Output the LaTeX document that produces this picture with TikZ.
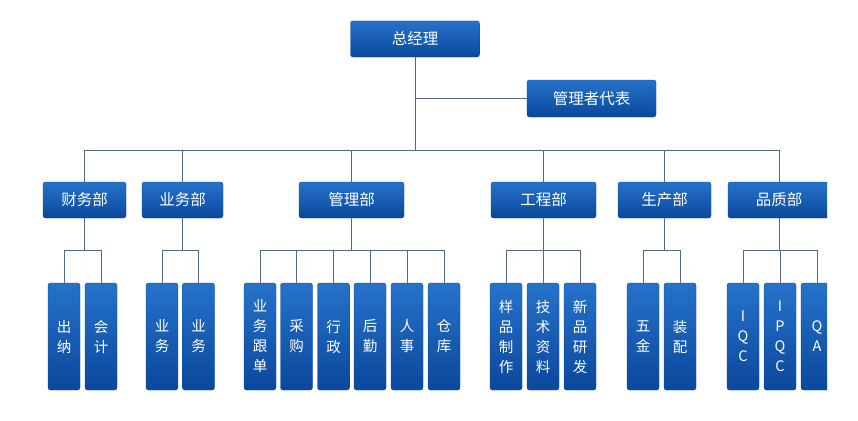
\documentclass[tikz,border=0pt]{standalone}
\usepackage{fontspec}
\newfontfamily\cjk{Noto Sans CJK SC}
\definecolor{boxtop}{RGB}{38,114,202}
\definecolor{boxbot}{RGB}{10,72,156}
\definecolor{wire}{RGB}{80,104,138}
\begin{document}
\begin{tikzpicture}[x=1pt,y=1pt,
	boxa/.style={rounded corners=2.5pt,top color=boxtop,bottom color=boxbot,draw=boxbot,
		text=white,font=\cjk\fontsize{15.5}{17}\selectfont,minimum height=36pt,inner sep=0pt},
	boxb/.style={rounded corners=2.5pt,top color=boxtop,bottom color=boxbot,draw=boxbot,
		text=white,font=\cjk\fontsize{14.5}{20}\selectfont,minimum width=32pt,minimum height=107pt,
		inner sep=0pt,align=center},
	wires/.style={draw=wire,line width=1pt}]
	\useasboundingbox (0,0) rectangle (858,-420);
	\clip (0,0) rectangle (827,-420);
	% top
	\node[boxa,minimum width=129pt] (boss) at (415,-39) {总经理};
	\node[boxa,minimum width=129pt,minimum height=37pt] (rep) at (591.5,-98.5) {管理者代表};
	% departments
	\node[boxa,minimum width=83pt] (fin) at (84.5,-200) {财务部};
	\node[boxa,minimum width=81pt] (biz) at (182.5,-200) {业务部};
	\node[boxa,minimum width=105pt] (adm) at (351.5,-200) {管理部};
	\node[boxa,minimum width=105pt] (eng) at (543.5,-200) {工程部};
	\node[boxa,minimum width=93pt] (pro) at (664.5,-200) {生产部};
	\node[boxa,minimum width=102pt] (qc) at (779,-200) {品质部};
	% sections
	\node[boxb] (fin1) at (64,-336.5) {出\\纳};
	\node[boxb] (fin2) at (101,-336.5) {会\\计};
	\node[boxb] (biz1) at (162,-336.5) {业\\务};
	\node[boxb] (biz2) at (198.5,-336.5) {业\\务};
	\node[boxb] (adm1) at (260,-336.5) {业\\务\\跟\\单};
	\node[boxb] (adm2) at (296.5,-336.5) {采\\购};
	\node[boxb] (adm3) at (333.5,-336.5) {行\\政};
	\node[boxb] (adm4) at (370,-336.5) {后\\勤};
	\node[boxb] (adm5) at (407,-336.5) {人\\事};
	\node[boxb] (adm6) at (444,-336.5) {仓\\库};
	\node[boxb] (eng1) at (506,-336.5) {样\\品\\制\\作};
	\node[boxb] (eng2) at (543,-336.5) {技\\术\\资\\料};
	\node[boxb] (eng3) at (580,-336.5) {新\\品\\研\\发};
	\node[boxb] (pro1) at (643,-336.5) {五\\金};
	\node[boxb] (pro2) at (680,-336.5) {装\\配};
	\node[boxb] (qc1) at (743,-336.5) {I\\Q\\C};
	\node[boxb] (qc2) at (780,-336.5) {I\\P\\Q\\C};
	\node[boxb] (qc3) at (817,-336.5) {Q\\A};
	% wires
	\draw[wires] (rep.west) -| (boss.south);
	\draw[wires] (fin.north) -- ++(0,31.5) -| (boss.south);
	\draw[wires] (biz.north) -- ++(0,31.5) -| (boss.south);
	\draw[wires] (adm.north) -- ++(0,31.5) -| (boss.south);
	\draw[wires] (eng.north) -- ++(0,31.5) -| (boss.south);
	\draw[wires] (pro.north) -- ++(0,31.5) -| (boss.south);
	\draw[wires] (qc.north) -- ++(0,31.5) -| (boss.south);
	\draw[wires] (fin1.north) -- ++(0,32.5) -| (fin.south);
	\draw[wires] (fin2.north) -- ++(0,32.5) -| (fin.south);
	\draw[wires] (biz1.north) -- ++(0,32.5) -| (biz.south);
	\draw[wires] (biz2.north) -- ++(0,32.5) -| (biz.south);
	\draw[wires] (adm1.north) -- ++(0,32.5) -| (adm.south);
	\draw[wires] (adm2.north) -- ++(0,32.5) -| (adm.south);
	\draw[wires] (adm3.north) -- ++(0,32.5) -| (adm.south);
	\draw[wires] (adm4.north) -- ++(0,32.5) -| (adm.south);
	\draw[wires] (adm5.north) -- ++(0,32.5) -| (adm.south);
	\draw[wires] (adm6.north) -- ++(0,32.5) -| (adm.south);
	\draw[wires] (eng1.north) -- ++(0,32.5) -| (eng.south);
	\draw[wires] (eng2.north) -- ++(0,32.5) -| (eng.south);
	\draw[wires] (eng3.north) -- ++(0,32.5) -| (eng.south);
	\draw[wires] (pro1.north) -- ++(0,32.5) -| (pro.south);
	\draw[wires] (pro2.north) -- ++(0,32.5) -| (pro.south);
	\draw[wires] (qc1.north) -- ++(0,32.5) -| (qc.south);
	\draw[wires] (qc2.north) -- ++(0,32.5) -| (qc.south);
	\draw[wires] (qc3.north) -- ++(0,32.5) -| (qc.south);
\end{tikzpicture}
\end{document}
